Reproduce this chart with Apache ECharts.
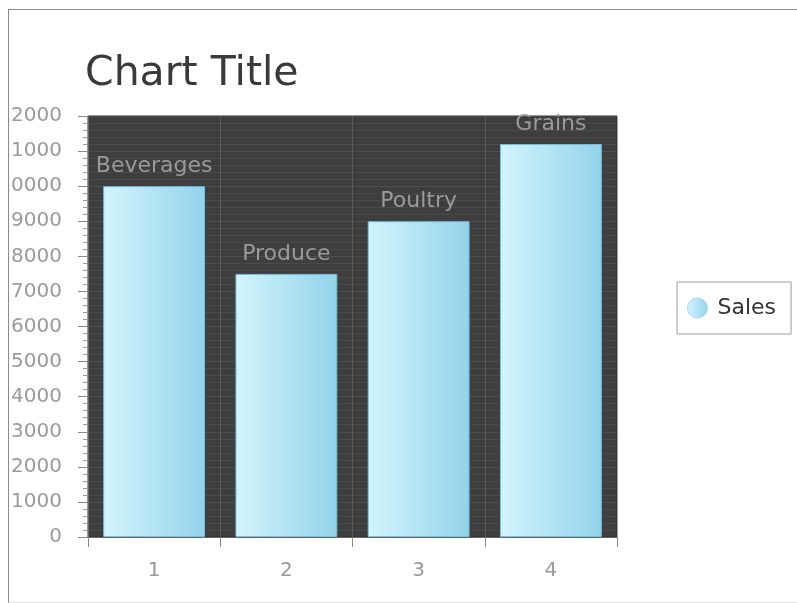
<!DOCTYPE html>
<html>
<head>
<meta charset="utf-8">
<script src="https://cdn.jsdelivr.net/npm/echarts@6/dist/echarts.min.js"></script>
<style>
	html, body { margin: 0; padding: 0; background: #fff; }
	#frame {
		position: absolute; left: 8px; top: 9px; width: 789px; height: 592px;
		border-top: 1px solid #8a8a8a; border-left: 1px solid #8a8a8a; border-bottom: 1px solid #e2e2e2;
		overflow: hidden;
	}
	#chart { position: absolute; left: 0; top: 0; width: 789px; height: 592px; }
</style>
</head>
<body>
<div id="frame"><div id="chart"></div></div>
<script>
	const categories = ["1", "2", "3", "4"];
	const pointNames = ["Beverages", "Produce", "Poultry", "Grains"];
	const sales = [10000, 7500, 9000, 11200];
	const seriesName = "Sales";

	const FONT = "DejaVu Sans";
	const barFill = new echarts.graphic.LinearGradient(0, 0, 1, 0, [
		{ offset: 0, color: "#d3f5fd" },
		{ offset: 1, color: "#93d3ea" }
	]);

	const chart = echarts.init(document.getElementById("chart"));
	chart.setOption({
		animation: false,
		title: {
			text: "Chart Title",
			left: 76,
			top: 44,
			padding: 0,
			textStyle: { fontFamily: FONT, fontSize: 41, fontWeight: "normal", color: "#3a3a3a" }
		},
		legend: {
			orient: "vertical",
			left: 668,
			top: 272,
			padding: [15, 15, 15, 10],
			borderColor: "#9a9a9a",
			borderWidth: 1,
			backgroundColor: "#fff",
			icon: "circle",
			itemWidth: 20,
			itemHeight: 20,
			itemStyle: { borderColor: "#a8d8ee", borderWidth: 1 },
			textStyle: { fontFamily: FONT, fontSize: 22, color: "#333", padding: [0, 0, 0, 5] },
			data: [seriesName]
		},
		grid: {
			left: 79,
			top: 106,
			width: 529,
			height: 421,
			outerBoundsMode: "none",
			containLabel: false,
			show: true,
			backgroundColor: "#3e3e3e",
			borderColor: "#2e2e2e",
			borderWidth: 1
		},
		xAxis: {
			type: "category",
			data: categories,
			axisLine: { lineStyle: { color: "#666", width: 1 } },
			axisTick: { show: true, length: 10, lineStyle: { color: "#888" } },
			axisLabel: { fontFamily: FONT, fontSize: 20, color: "#999", margin: 24 },
			splitLine: { show: true, lineStyle: { color: "rgba(255,255,255,0.14)" } }
		},
		yAxis: {
			type: "value",
			min: 0,
			max: 12000,
			interval: 1000,
			axisLine: { show: true, lineStyle: { color: "#666" } },
			axisTick: { show: true, length: 10, lineStyle: { color: "#888" } },
			minorTick: { show: true, splitNumber: 5, length: 5, lineStyle: { color: "#999" } },
			axisLabel: {
				fontFamily: FONT, fontSize: 20, color: "#9a9a9a", margin: 26,
				formatter: (v) => String(v)
			},
			splitLine: { show: true, lineStyle: { color: "rgba(255,255,255,0.09)" } },
			minorSplitLine: { show: true, lineStyle: { color: "rgba(255,255,255,0.07)" } }
		},
		series: [{
			name: seriesName,
			type: "bar",
			data: sales,
			barCategoryGap: "23%",
			itemStyle: { color: barFill, borderColor: "#74bde3", borderWidth: 1 },
			label: {
				show: true,
				position: "top",
				distance: 9,
				fontFamily: FONT,
				fontSize: 22,
				color: "#9a9a9a",
				formatter: (p) => pointNames[p.dataIndex]
			}
		}]
	});
</script>
</body>
</html>
